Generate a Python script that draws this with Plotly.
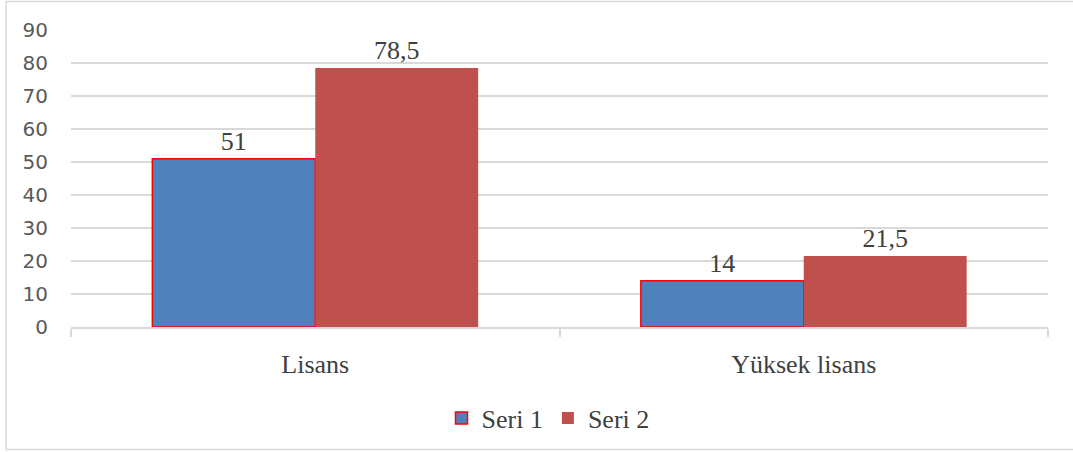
import plotly.graph_objects as go

categories = ["Lisans", "Yüksek lisans"]
seri1 = [51, 14]
seri2 = [78.5, 21.5]
series_names = ["Seri 1", "Seri 2"]
y_ticks = [0, 10, 20, 30, 40, 50, 60, 70, 80, 90]

def fmt(v):
    return str(v).replace(".", ",")

W, H = 1073, 452
L, R, T, B = 71, 25, 30, 124
pw, ph = W - L - R, H - T - B

serif = "Liberation Serif, Times New Roman, serif"
txt_col = "#404040"

fig = go.Figure()
fig.add_trace(go.Bar(
    x=categories, y=seri1, name=series_names[0],
    marker=dict(color="#4f81bd", line=dict(color="#ff0000", width=1.5)),
    text=[fmt(v) for v in seri1], textposition="outside", cliponaxis=False,
    textfont=dict(family=serif, size=26, color=txt_col),
))
fig.add_trace(go.Bar(
    x=categories, y=seri2, name=series_names[1],
    marker=dict(color="#c0504d", line=dict(width=0)),
    text=[fmt(v) for v in seri2], textposition="outside", cliponaxis=False,
    textfont=dict(family=serif, size=26, color=txt_col),
))

def px_x(p):
    return (p - L) / pw

def px_y(p):
    return (T + ph - p) / ph

fig.update_layout(
    width=W, height=H,
    margin=dict(l=L, r=R, t=T, b=B),
    paper_bgcolor="white", plot_bgcolor="white",
    barmode="group", bargap=0.333, bargroupgap=0,
    showlegend=True,
    legend=dict(orientation="h", x=px_x(548), xanchor="center", y=px_y(418), yanchor="middle",
                font=dict(family=serif, size=26, color=txt_col), itemwidth=30,
                traceorder="normal"),
    xaxis=dict(
        showgrid=False, showline=True, linecolor="#d9d9d9", linewidth=1.5,
        ticks="outside", tickson="boundaries", ticklen=8, tickcolor="#d9d9d9", tickwidth=1.5,
        tickfont=dict(family=serif, size=26, color=txt_col),
        ticklabelstandoff=13,
    ),
    yaxis=dict(
        range=[0, 90], tickvals=y_ticks, showgrid=True, gridcolor="#d9d9d9", gridwidth=1.5,
        zeroline=False, showline=False,
        tickfont=dict(family="DejaVu Sans", size=20, color="#595959"),
        ticklabelstandoff=22,
    ),
    shapes=[dict(type="rect", xref="paper", yref="paper",
                 x0=px_x(6), x1=px_x(1080), y0=px_y(451), y1=px_y(1.5),
                 line=dict(color="#d9d9d9", width=1.5), fillcolor="rgba(0,0,0,0)", layer="below")],
)

fig.write_html("out.html", config={"displayModeBar": False},
               post_script="document.body.style.margin='0';document.body.style.overflow='hidden';")
